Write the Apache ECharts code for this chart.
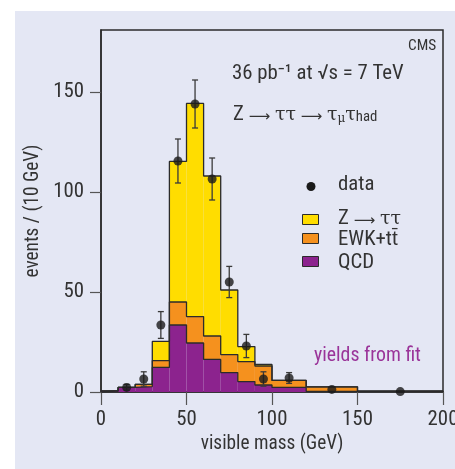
<!DOCTYPE html>
<html><head><meta charset="utf-8">
<script src="https://cdn.jsdelivr.net/npm/echarts@6/dist/echarts.min.js"></script>
<style>html,body{margin:0;padding:0;background:#fff}#c{width:455px;height:469px}</style>
</head><body><div id="c"></div><script>
// ---- data ----
const binEdges = [0, 10, 20, 30, 40, 50, 60, 70, 80, 90, 100, 120, 150, 200];
const qcd = [0.6, 2.3, 2.7, 12.3, 33.5, 24.5, 16.3, 9.7, 5.2, 3.5, 2.3, 0.3, 0.4];
const ewk = [0, 0, 1.1, 3.4, 11.5, 13.2, 11.7, 9.0, 10.0, 9.5, 3.5, 2.3, 0];
const ztt = [0, 0, 0, 9.6, 70.3, 106.6, 80.0, 32.3, 7.5, 0.8, 0, 0, 0];
const dataX = [15, 25, 35, 45, 55, 65, 75, 85, 95, 110, 135, 175];
const dataY = [2.3, 6.5, 33.5, 115.5, 144, 106.5, 55, 23, 6.5, 7, 1.3, 0.2];
const dataErr = [1.5, 3.6, 6.7, 11, 12, 10.5, 7.8, 5.8, 3.6, 2.7, 0, 0];
const xTicks = [0, 50, 100, 150, 200];
const yTicks = [0, 50, 100, 150];

function pickFont(cands) {
  const c = document.createElement('canvas').getContext('2d');
  const s = 'abcdefghijklmnopqrstuvwxyz0123456789ABCDEFG';
  for (const f of cands) {
    for (const base of ['monospace', 'serif']) {
      c.font = '40px ' + base; const w0 = c.measureText(s).width;
      c.font = '40px "' + f + '", ' + base; const w1 = c.measureText(s).width;
      if (Math.abs(w0 - w1) > 0.5) return f;
    }
  }
  return 'Liberation Sans';
}
const FAM = pickFont(['Liberation Sans Narrow', 'Roboto Condensed', 'DejaVu Sans Condensed', 'Roboto']);
const FONT = '"' + FAM + '", "Liberation Sans", sans-serif';
// fit font size so axis title width approximates reference (139px)
const mc = document.createElement('canvas').getContext('2d');
mc.font = '19px ' + FONT;
const K = Math.max(0.86, Math.min(1, 139 / mc.measureText('visible mass (GeV)').width));
const fs = v => Math.round(v * K * 10) / 10;

const COL = { z: '#ffdd00', ewk: '#f5911e', qcd: '#8c238e', line: '#2b2b2b', text: '#333333' };

// stacked fills
const fillData = [];
for (let i = 0; i < binEdges.length - 1; i++) {
  const x0 = binEdges[i], x1 = binEdges[i + 1];
  const b1 = qcd[i], b2 = b1 + ewk[i], b3 = b2 + ztt[i];
  fillData.push([x0, x1, 0, b1, 2], [x0, x1, b1, b2, 1], [x0, x1, b2, b3, 0]);
}
const layerColors = [COL.z, COL.ewk, COL.qcd];

function stepPts(tops, closeEnds) {
  const pts = [];
  if (closeEnds) pts.push([binEdges[0], 0]);
  for (let i = 0; i < tops.length; i++) {
    pts.push([binEdges[i], tops[i]], [binEdges[i + 1], tops[i]]);
  }
  if (closeEnds) pts.push([binEdges[binEdges.length - 1], 0]);
  return pts;
}
const topQ = qcd.slice();
const topE = qcd.map((v, i) => v + ewk[i]);
const topZ = qcd.map((v, i) => v + ewk[i] + ztt[i]);

function stepSeries(pts) {
  return {
    type: 'line', data: pts, showSymbol: false, symbol: 'none', silent: true,
    lineStyle: { color: COL.line, width: 1.3 }, z: 3, animation: false
  };
}
const errData = dataX.map((x, i) => [x, dataY[i], dataErr[i]]);

const SER = '"DejaVu Serif", serif';
const SYM = '"DejaVu Sans", sans-serif';

const chart = echarts.init(document.getElementById('c'), null, { renderer: 'canvas' });
chart.setOption({
  animation: false,
  backgroundColor: '#ffffff',
  graphic: [
    { type: 'rect', z: -10, silent: true, shape: { x: 15, y: 11, width: 440, height: 458 }, style: { fill: '#e4e7f4' } },
    { type: 'text', z: 10, left: 408, top: 39, style: { text: 'CMS', font: fs(15.5) + 'px ' + FONT, fill: COL.text } },
    { type: 'text', z: 10, left: 232, top: 63, style: { text: '36 pb\u207B\u00B9 at \u221As = 7 TeV', font: fs(21) + 'px ' + FONT, fill: COL.text } },
    { type: 'text', z: 10, left: 233, top: 104, style: {
        text: '{m|Z }{a|\u27F6}{m| }{t|\u03C4\u03C4}{m| }{a|\u27F6}{m| }{t|\u03C4}{u|\u03BC}{t|\u03C4}{s|had}',
        fill: COL.text,
        rich: {
          m: { fontFamily: FONT, fontSize: fs(21), lineHeight: 24, fill: COL.text, verticalAlign: 'bottom' },
          a: { fontFamily: SYM, fontSize: 15, lineHeight: 24, fill: COL.text, verticalAlign: 'bottom' },
          t: { fontFamily: SER, fontSize: 19, lineHeight: 24, fill: COL.text, verticalAlign: 'bottom' },
          u: { fontFamily: SER, fontSize: 12, lineHeight: 6, fill: COL.text, verticalAlign: 'bottom' },
          s: { fontFamily: FONT, fontSize: fs(15), lineHeight: 8, fill: COL.text, verticalAlign: 'bottom' }
        } } },
    // legend
    { type: 'circle', z: 10, shape: { cx: 311, cy: 186.5, r: 4.5 }, style: { fill: '#1a1a1a' } },
    { type: 'text', z: 10, left: 338, top: 174, style: { text: 'data', font: fs(21) + 'px ' + FONT, fill: COL.text } },
    { type: 'rect', z: 10, shape: { x: 302.5, y: 214.5, width: 16, height: 10 }, style: { fill: COL.z, stroke: COL.line, lineWidth: 1 } },
    { type: 'text', z: 10, left: 338, top: 208, style: {
        text: '{m|Z }{a|\u27F6}{m| }{t|\u03C4\u03C4}', fill: COL.text,
        rich: {
          m: { fontFamily: FONT, fontSize: fs(21), lineHeight: 24, fill: COL.text, verticalAlign: 'bottom' },
          a: { fontFamily: SYM, fontSize: 15, lineHeight: 24, fill: COL.text, verticalAlign: 'bottom' },
          t: { fontFamily: SER, fontSize: 19, lineHeight: 24, fill: COL.text, verticalAlign: 'bottom' }
        } } },
    { type: 'rect', z: 10, shape: { x: 302.5, y: 233.5, width: 16, height: 10 }, style: { fill: COL.ewk, stroke: COL.line, lineWidth: 1 } },
    { type: 'text', z: 10, left: 338, top: 229, style: { text: 'EWK+t\u0074\u0304', font: fs(21) + 'px ' + FONT, fill: COL.text } },
    { type: 'rect', z: 10, shape: { x: 302.5, y: 256.5, width: 16, height: 10 }, style: { fill: COL.qcd, stroke: COL.line, lineWidth: 1 } },
    { type: 'text', z: 10, left: 338, top: 252, style: { text: 'QCD', font: fs(21) + 'px ' + FONT, fill: COL.text } },
    { type: 'text', z: 10, left: 314, top: 346, style: { text: 'yields from fit', font: fs(20) + 'px ' + FONT, fill: '#9a3499' } }
  ],
  grid: { left: 101, top: 30, right: 12, bottom: 77, show: true, borderColor: COL.line, borderWidth: 1.5,
    backgroundColor: 'transparent', outerBoundsMode: 'none', containLabel: false },
  xAxis: {
    type: 'value', min: 0, max: 200, interval: 50,
    name: 'visible mass (GeV)', nameLocation: 'middle', nameGap: 30,
    nameTextStyle: { fontFamily: FONT, fontSize: fs(19.5), color: COL.text },
    axisLine: { lineStyle: { color: COL.line, width: 1.5 } },
    axisTick: { inside: false, length: 13, lineStyle: { color: '#555', width: 1.2 }, customValues: xTicks },
    axisLabel: { margin: 17, fontFamily: FONT, fontSize: fs(21), color: COL.text, customValues: xTicks, hideOverlap: false },
    splitLine: { show: false }
  },
  yAxis: {
    type: 'value', min: 0, max: 181, interval: 50,
    name: 'events / (10 GeV)', nameLocation: 'middle', nameGap: 50,
    nameTextStyle: { fontFamily: FONT, fontSize: fs(19.5), color: COL.text },
    axisLine: { lineStyle: { color: COL.line, width: 1.5 } },
    axisTick: { inside: false, length: 11, lineStyle: { color: '#555', width: 1.2 }, customValues: yTicks },
    axisLabel: { margin: 17, fontFamily: FONT, fontSize: fs(21), color: COL.text, customValues: yTicks },
    splitLine: { show: false }
  },
  series: [
    {
      type: 'custom', data: fillData, z: 2, silent: true,
      renderItem: function (params, api) {
        const p0 = api.coord([api.value(0), api.value(2)]);
        const p1 = api.coord([api.value(1), api.value(3)]);
        return { type: 'rect', shape: { x: p0[0], y: p1[1], width: p1[0] - p0[0], height: p0[1] - p1[1] },
          style: { fill: layerColors[api.value(4)] } };
      }
    },
    stepSeries(stepPts(topQ, false)),
    stepSeries(stepPts(topE, false)),
    stepSeries(stepPts(topZ, true)),
    {
      type: 'custom', data: errData, z: 4, silent: true,
      renderItem: function (params, api) {
        const x = api.value(0), y = api.value(1), e = api.value(2);
        if (!e) return null;
        const top = api.coord([x, y + e]), bot = api.coord([x, y - e]);
        const st = { stroke: '#3a3a3a', lineWidth: 1.3 };
        return { type: 'group', children: [
          { type: 'line', shape: { x1: top[0], y1: top[1], x2: bot[0], y2: bot[1] }, style: st },
          { type: 'line', shape: { x1: top[0] - 3, y1: top[1], x2: top[0] + 3, y2: top[1] }, style: st },
          { type: 'line', shape: { x1: bot[0] - 3, y1: bot[1], x2: bot[0] + 3, y2: bot[1] }, style: st }
        ] };
      }
    },
    {
      type: 'scatter', data: dataX.map((x, i) => [x, dataY[i]]), symbol: 'circle', symbolSize: 9, z: 5,
      itemStyle: { color: '#1a1a1a' }, silent: true
    }
  ]
});
</script></body></html>
